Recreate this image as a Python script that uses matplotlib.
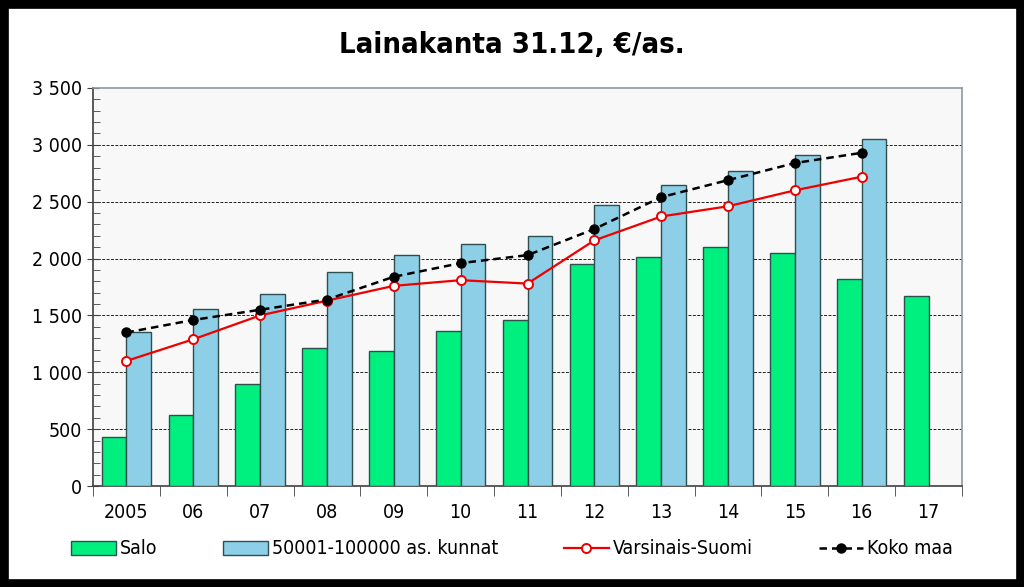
#!/usr/bin/env python3
"""Lainakanta 31.12, euro per asukas: Salo vs. comparison groups."""

import matplotlib
matplotlib.use("Agg")
import matplotlib.pyplot as plt
import numpy as np
from matplotlib.patches import Rectangle
from matplotlib.ticker import FuncFormatter, MultipleLocator

plt.rcParams["font.family"] = ["Liberation Sans Narrow", "DejaVu Sans"]
plt.rcParams["font.stretch"] = "condensed"

years = ["2005", "06", "07", "08", "09", "10", "11", "12", "13", "14", "15", "16", "17"]
salo = [430, 620, 900, 1210, 1190, 1360, 1460, 1950, 2010, 2100, 2050, 1820, 1670]
kunnat = [1350, 1560, 1690, 1880, 2030, 2130, 2200, 2470, 2650, 2770, 2910, 3050]
varsinais = [1100, 1290, 1500, 1630, 1760, 1810, 1780, 2160, 2370, 2460, 2600, 2720]
koko_maa = [1350, 1460, 1550, 1640, 1840, 1960, 2030, 2260, 2540, 2690, 2840, 2930]

GREEN = "#00f080"
BLUE = "#8ecfe8"
EDGE = "#2f4f4f"


def main():
    fig = plt.figure(figsize=(10.24, 5.87), dpi=100, facecolor="white")
    fig.patches.append(
        Rectangle((0, 0), 1, 1, transform=fig.transFigure, facecolor="none",
                  edgecolor="black", linewidth=12, zorder=10)
    )
    ax = fig.add_axes([93 / 1024, 1 - 486 / 587, 869 / 1024, 398 / 587])
    ax.set_facecolor("#f8f8f8")

    x = np.arange(len(years))
    w = 0.37
    ax.bar(x[:len(salo)] - w / 2, salo, w, color=GREEN, edgecolor=EDGE, linewidth=1.0,
           label="Salo", zorder=3)
    ax.bar(x[:len(kunnat)] + w / 2, kunnat, w, color=BLUE, edgecolor=EDGE, linewidth=1.0,
           label="50001-100000 as. kunnat", zorder=3)
    ax.plot(x[:len(varsinais)], varsinais, color="#ee0000", linewidth=1.6, marker="o",
            markersize=6.5, markerfacecolor="white", markeredgecolor="#ee0000",
            markeredgewidth=1.4, label="Varsinais-Suomi", zorder=4)
    ax.plot(x[:len(koko_maa)], koko_maa, color="black", linewidth=1.8, linestyle=(0, (3, 2)),
            marker="o", markersize=6.5, markerfacecolor="black", markeredgecolor="black",
            label="Koko maa", zorder=5)

    ax.set_xlim(-0.5, len(years) - 0.5)
    ax.set_ylim(0, 3500)
    ax.yaxis.set_major_locator(MultipleLocator(500))
    ax.yaxis.set_minor_locator(MultipleLocator(100))
    ax.yaxis.set_major_formatter(FuncFormatter(lambda v, _: f"{int(v):,}".replace(",", " ")))
    ax.tick_params(axis="y", which="major", direction="inout", length=8, labelsize=14,
                   color="#404040", pad=4)
    ax.tick_params(axis="y", which="minor", direction="in", length=5, color="#404040")

    ax.set_xticks(x)
    ax.set_xticklabels(years)
    ax.set_xticks(np.arange(-0.5, len(years) - 0.4, 1.0), minor=True)
    ax.tick_params(axis="x", which="major", length=0, labelsize=14, pad=12)
    ax.tick_params(axis="x", which="minor", direction="out", length=7, color="#404040")

    for yv in range(500, 3500, 500):
        ax.axhline(yv, color="#202020", linewidth=0.7, linestyle=(0, (3, 1.5)), zorder=1)

    for side in ("top", "right"):
        ax.spines[side].set_color("#8c9aa0")
    for side in ("left", "bottom"):
        ax.spines[side].set_color("#404040")
    for s in ax.spines.values():
        s.set_linewidth(1.2)

    fig.text(0.5, 1 - 45 / 587, "Lainakanta 31.12, €/as.", ha="center", va="center",
             fontsize=21, fontweight="bold")

    handles, labels = ax.get_legend_handles_labels()
    order = [labels.index(n) for n in ("Salo", "50001-100000 as. kunnat",
                                       "Varsinais-Suomi", "Koko maa")]
    fig.legend([handles[i] for i in order], [labels[i] for i in order], loc="center",
               bbox_to_anchor=(0.5, 1 - 549 / 587), ncol=4, frameon=False, fontsize=14,
               columnspacing=3.4, handlelength=2.3, handletextpad=0.2)

    fig.savefig("out.png", dpi=100)


if __name__ == "__main__":
    main()
